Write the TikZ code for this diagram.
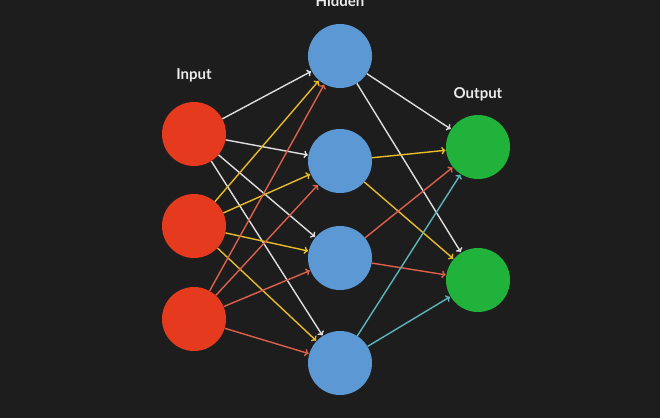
\documentclass[tikz,border=0pt]{standalone}
\usepackage{fontspec}
\setmainfont{Lato}
\usepackage{tikz}
\usetikzlibrary{arrows.meta}
\usepackage{color}
\definecolor{slate}{RGB}{29, 29, 29}
\definecolor{inred}{RGB}{229, 58, 30}
\definecolor{hidblue}{RGB}{92, 152, 212}
\definecolor{outgreen}{RGB}{32, 178, 58}
\definecolor{linkwhite}{RGB}{222, 222, 222}
\definecolor{linkyellow}{RGB}{232, 188, 40}
\definecolor{linkred}{RGB}{222, 96, 76}
\definecolor{linkcyan}{RGB}{92, 182, 188}
\tikzset{
  neuron/.style={circle, minimum size=64pt, inner sep=0pt},
  layerlabel/.style={text=white!92!black, anchor=base, font=\bfseries\fontsize{15}{17}\selectfont},
  link/.style={line width=1.4pt, -{To[length=4pt, width=7.5pt]}, shorten >=0.5pt}
}

\begin{document}
\begin{tikzpicture}[x=1pt, y=-1pt]
    \fill[slate] (0,0) rectangle (660,418);
    \useasboundingbox (0,0) rectangle (660,418);
    % layers
    \foreach \i/\y in {1/134, 2/226, 3/319}
        \node[neuron, fill=inred]    (in\i)  at (194,\y) {};
    \foreach \i/\y in {1/56, 2/161, 3/258, 4/363}
        \node[neuron, fill=hidblue]  (hid\i) at (340,\y) {};
    \foreach \i/\y in {1/147, 2/280}
        \node[neuron, fill=outgreen] (out\i) at (478,\y) {};
    % labels
    \node[layerlabel] (lblin)  at (194, 79) {Input};
    \node[layerlabel] (lblhid) at (340,  6) {Hidden};
    \node[layerlabel] (lblout) at (478, 98) {Output};
    % links
    \foreach \i/\c in {1/linkwhite, 2/linkyellow, 3/linkred}
        \foreach \j in {1,...,4}
            \draw[link, \c] (in\i) -- (hid\j);
    \foreach \j/\c in {1/linkwhite, 2/linkyellow, 3/linkred, 4/linkcyan}
        \foreach \k in {1,2}
            \draw[link, \c] (hid\j) -- (out\k);
\end{tikzpicture}
\end{document}
